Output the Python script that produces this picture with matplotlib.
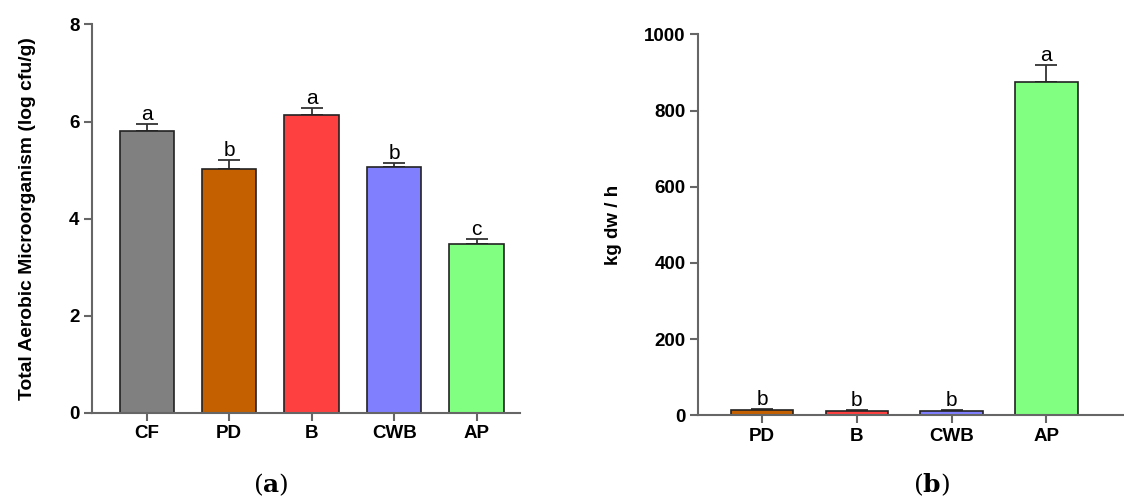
import numpy as np
import matplotlib
matplotlib.use('Agg')
import matplotlib.pyplot as plt

plt.rcParams['font.family'] = ['Liberation Sans', 'DejaVu Sans']
plt.rcParams['mathtext.fontset'] = 'dejavuserif'

# panel (a) data
groups_a = ['CF', 'PD', 'B', 'CWB', 'AP']
means_a = [5.81, 5.02, 6.13, 5.07, 3.48]
errs_a = [0.13, 0.18, 0.15, 0.08, 0.09]
letters_a = ['a', 'b', 'a', 'b', 'c']
colors_a = ['#808080', '#C56000', '#FF4040', '#8080FF', '#80FF80']

# panel (b) data
groups_b = ['PD', 'B', 'CWB', 'AP']
means_b = [14, 12, 12, 874]
errs_b = [2, 2, 1, 47]
letters_b = ['b', 'b', 'b', 'a']
colors_b = ['#C56000', '#FF4040', '#8080FF', '#80FF80']

fig = plt.figure(figsize=(11.24, 4.99), dpi=100)
ax1 = fig.add_axes([0.0819, 0.173, 0.3807, 0.778])
ax2 = fig.add_axes([0.6213, 0.168, 0.3787, 0.763])

spine_col = '#666666'


def style(ax):
    for s in ['top', 'right']:
        ax.spines[s].set_visible(False)
    for s in ['left', 'bottom']:
        ax.spines[s].set_color(spine_col)
        ax.spines[s].set_linewidth(1.5)
    ax.tick_params(direction='out', length=6, width=1.5, color=spine_col,
                   labelsize=13.5, pad=3)
    for lab in ax.get_xticklabels() + ax.get_yticklabels():
        lab.set_fontweight('bold')


def draw(ax, groups, means, errs, letters, colors, pad):
    x = np.arange(len(groups))
    ax.bar(x, means, width=0.66, color=colors, edgecolor='#222222',
           linewidth=1.2, zorder=2)
    ax.errorbar(x, means, yerr=[np.zeros(len(errs)), errs], fmt='none',
                ecolor='#333333', elinewidth=1.3, capsize=8, capthick=1.3,
                zorder=1)
    for xi, m, e, t in zip(x, means, errs, letters):
        ax.text(xi, m + e + pad, t, ha='center', va='bottom', fontsize=15)
    ax.set_xticks(x)
    ax.set_xticklabels(groups)


draw(ax1, groups_a, means_a, errs_a, letters_a, colors_a, 0.0)
ax1.set_xlim(-0.663, 4.525)
ax1.set_ylim(0, 8)
ax1.set_yticks([0, 2, 4, 6, 8])
ax1.set_ylabel('Total Aerobic Microorganism (log cfu/g)', fontsize=13.9,
               fontweight='bold', labelpad=24)
style(ax1)

draw(ax2, groups_b, means_b, errs_b, letters_b, colors_b, 0)
ax2.set_xlim(-0.673, 3.82)
ax2.set_ylim(0, 1000)
ax2.set_yticks([0, 200, 400, 600, 800, 1000])
ax2.set_ylabel('kg dw / h', fontsize=13.5, fontweight='bold', labelpad=16)
style(ax2)

fig.text(0.2411, 0.028, r'($\mathbf{a}$)', ha='center', va='center',
         fontsize=18, family='DejaVu Serif')
fig.text(0.829, 0.028, r'($\mathbf{b}$)', ha='center', va='center',
         fontsize=18, family='DejaVu Serif')

fig.savefig('out.png', dpi=100)
